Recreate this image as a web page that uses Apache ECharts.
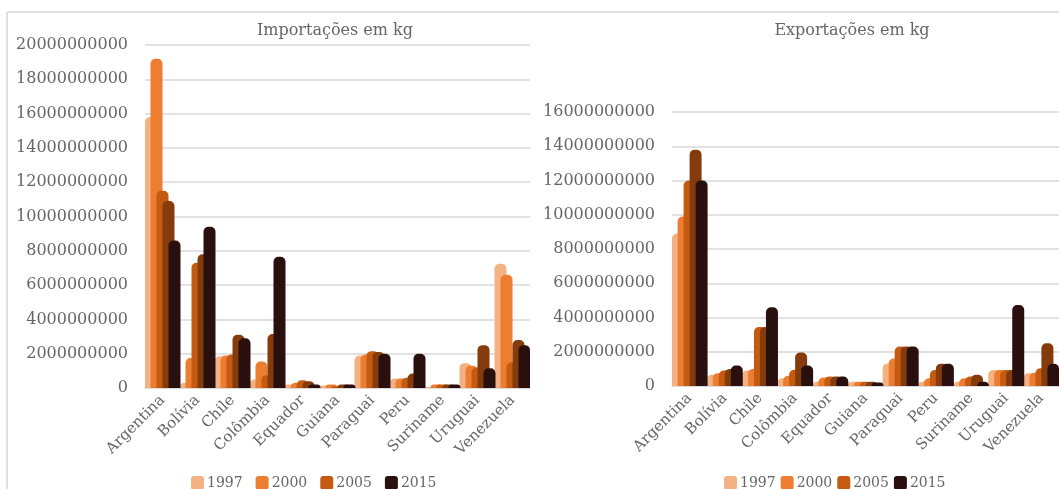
<!DOCTYPE html>
<html>
<head>
<meta charset="utf-8">
<title>Importações e Exportações em kg</title>
<script src="https://cdn.jsdelivr.net/npm/echarts@6/dist/echarts.min.js"></script>
<style>
  html, body { margin: 0; padding: 0; background: #fff; }
  #chart { width: 1059px; height: 489px; }
</style>
</head>
<body>
<div id="chart"></div>
<script>
// countries along both x axes
const countries = ['Argentina', 'Bolívia', 'Chile', 'Colômbia', 'Equador', 'Guiana',
  'Paraguai', 'Peru', 'Suriname', 'Uruguai', 'Venezuela']

const years = ['1997', '2000', '2005', '2010', '2015']
const legendYears = ['1997', '2000', '2005', '2015']

// imports (kg)
const imp1997 = [15.8e9, 0.3e9, 1.85e9, 0.5e9, 0.2e9, 0.15e9, 1.9e9, 0.55e9, 0.05e9, 1.45e9, 7.25e9]
const imp2000 = [19.2e9, 1.75e9, 1.9e9, 1.55e9, 0.3e9, 0.2e9, 1.95e9, 0.55e9, 0.2e9, 1.3e9, 6.6e9]
const imp2005 = [11.5e9, 7.3e9, 1.95e9, 0.75e9, 0.45e9, 0.1e9, 2.15e9, 0.6e9, 0.2e9, 1.2e9, 1.5e9]
const imp2010 = [10.9e9, 7.8e9, 3.1e9, 3.15e9, 0.4e9, 0.2e9, 2.1e9, 0.85e9, 0.2e9, 2.5e9, 2.8e9]
const imp2015 = [8.6e9, 9.4e9, 2.9e9, 7.65e9, 0.2e9, 0.2e9, 2.0e9, 2.0e9, 0.2e9, 1.15e9, 2.5e9]

// exports (kg)
const exp1997 = [8.9e9, 0.65e9, 0.9e9, 0.45e9, 0.25e9, 0.25e9, 1.32e9, 0.25e9, 0.25e9, 0.93e9, 0.74e9]
const exp2000 = [9.9e9, 0.75e9, 1.0e9, 0.6e9, 0.5e9, 0.25e9, 1.6e9, 0.45e9, 0.45e9, 0.93e9, 0.78e9]
const exp2005 = [12.0e9, 0.9e9, 3.45e9, 0.95e9, 0.55e9, 0.25e9, 2.3e9, 0.93e9, 0.55e9, 0.93e9, 1.03e9]
const exp2010 = [13.8e9, 1.0e9, 3.45e9, 1.95e9, 0.55e9, 0.25e9, 2.3e9, 1.3e9, 0.65e9, 0.93e9, 2.5e9]
const exp2015 = [12.0e9, 1.2e9, 4.6e9, 1.2e9, 0.55e9, 0.2e9, 2.3e9, 1.3e9, 0.25e9, 4.73e9, 1.3e9]

const impSeries = [imp1997, imp2000, imp2005, imp2010, imp2015]
const expSeries = [exp1997, exp2000, exp2005, exp2010, exp2015]

const colors = ['#f4b183', '#ed7d31', '#c55a11', '#843c0c', '#2a0f0f']

const serif = '"DejaVu Serif", "Liberation Serif", serif'
const grey = '#666666'

function xAxisFor(gridIndex) {
  return {
    type: 'category',
    gridIndex,
    data: countries,
    axisLine: { lineStyle: { color: '#d9d9d9', width: 1.5 } },
    axisTick: { show: false },
    axisLabel: { rotate: 45, color: grey, fontFamily: serif, fontSize: 15, margin: 10, interval: 0 }
  }
}

function yAxisFor(gridIndex, max) {
  return {
    type: 'value',
    gridIndex,
    min: 0,
    max,
    interval: 2000000000,
    axisLine: { show: false },
    axisTick: { show: false },
    axisLabel: { color: grey, fontFamily: serif, fontSize: 16, margin: 17, formatter: v => String(v) },
    splitLine: { lineStyle: { color: '#d9d9d9', width: 1.5 } }
  }
}

function barsFor(data, idx) {
  return data.map((vals, i) => ({
    name: years[i],
    type: 'bar',
    xAxisIndex: idx,
    yAxisIndex: idx,
    data: vals,
    barWidth: 12,
    barGap: '-50%',
    itemStyle: { color: colors[i], borderRadius: [5, 5, 0, 0] }
  }))
}

const chart = echarts.init(document.getElementById('chart'), null, { renderer: 'canvas' })

chart.setOption({
  animation: false,
  backgroundColor: '#ffffff',
  color: colors,
  graphic: [
    { type: 'line', shape: { x1: 7, y1: 12, x2: 1059, y2: 12 }, style: { stroke: '#e0e0e0', lineWidth: 2 } },
    { type: 'line', shape: { x1: 7, y1: 12, x2: 7, y2: 489 }, style: { stroke: '#e0e0e0', lineWidth: 2 } }
  ],
  title: [
    { text: 'Importações em kg', left: 330, top: 18, textAlign: 'center',
      textStyle: { fontFamily: serif, fontSize: 16, fontWeight: 'normal', color: grey } },
    { text: 'Exportações em kg', left: 847, top: 18, textAlign: 'center',
      textStyle: { fontFamily: serif, fontSize: 16, fontWeight: 'normal', color: grey } }
  ],
  legend: [
    { data: legendYears, left: 186, top: 471, icon: 'roundRect', itemWidth: 13, itemHeight: 14,
      itemGap: 13, textStyle: { fontFamily: serif, fontSize: 14, color: grey, padding: [0, 0, 0, -2] } },
    { data: legendYears, left: 719, top: 471, icon: 'roundRect', itemWidth: 13, itemHeight: 14,
      itemGap: 5, textStyle: { fontFamily: serif, fontSize: 14, color: grey, padding: [0, 0, 0, -2] } }
  ],
  grid: [
    { left: 145, top: 45, width: 385, height: 343 },
    { left: 672, top: 112, width: 396, height: 274 }
  ],
  xAxis: [xAxisFor(0), xAxisFor(1)],
  yAxis: [yAxisFor(0, 20000000000), yAxisFor(1, 16000000000)],
  series: [...barsFor(impSeries, 0), ...barsFor(expSeries, 1)]
})
</script>
</body>
</html>
